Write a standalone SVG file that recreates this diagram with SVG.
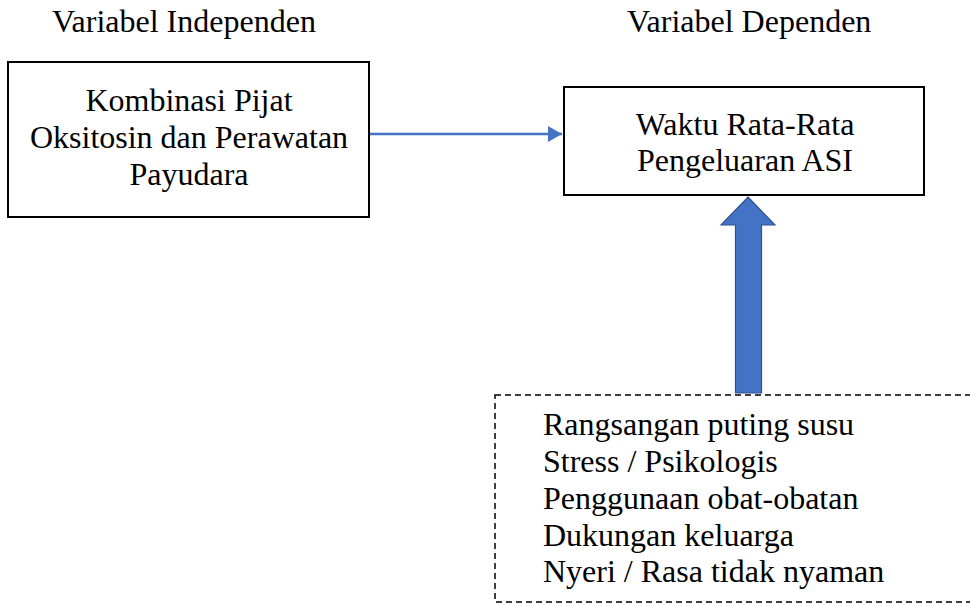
<svg xmlns="http://www.w3.org/2000/svg" width="970" height="606" viewBox="0 0 970 606">
<defs>
<style>
text{font-family:"Liberation Serif","Times New Roman",serif;font-size:32px;fill:#000}
.c{text-anchor:middle}
.box{fill:#fff;stroke:#000;stroke-width:2}
.dash{fill:none;stroke:#000;stroke-width:1.5;stroke-dasharray:6 4}
.conn{stroke:#4472C4;stroke-width:2.5;fill:none}
.block{fill:#4472C4;stroke:#2F528F;stroke-width:1.2}
</style>
<marker id="ah" viewBox="0 0 14 16" refX="14" refY="8" markerWidth="14" markerHeight="16" markerUnits="userSpaceOnUse" orient="auto">
<path d="M0,0 L14,8 L0,16 Z" fill="#4472C4"/>
</marker>
</defs>
<g id="label-independen"><text x="52" y="32">Variabel Independen</text></g>
<g id="label-dependen"><text x="627" y="32">Variabel Dependen</text></g>
<g id="node-independen">
<rect class="box" x="8" y="62" width="361" height="155"/>
<text class="c" x="189" y="111">Kombinasi Pijat</text>
<text class="c" x="189" y="148">Oksitosin dan Perawatan</text>
<text class="c" x="189" y="185">Payudara</text>
</g>
<g id="node-dependen">
<rect class="box" x="564" y="87" width="360" height="108"/>
<text class="c" x="745" y="135">Waktu Rata-Rata</text>
<text class="c" x="745" y="171">Pengeluaran ASI</text>
</g>
<g id="node-faktor">
<rect class="dash" x="495" y="395" width="500" height="207"/>
<text x="543" y="435">Rangsangan puting susu</text>
<text x="543" y="472">Stress / Psikologis</text>
<text x="543" y="509">Penggunaan obat-obatan</text>
<text x="543" y="546">Dukungan keluarga</text>
<text x="543" y="582">Nyeri / Rasa tidak nyaman</text>
</g>
<g id="connectors">
<line class="conn" x1="370" y1="134" x2="562" y2="134" marker-end="url(#ah)"/>
<path class="block" d="M748,197 L775,225 L761.5,225 L761.5,393 L735.5,393 L735.5,225 L721,225 Z"/>
</g>
</svg>
